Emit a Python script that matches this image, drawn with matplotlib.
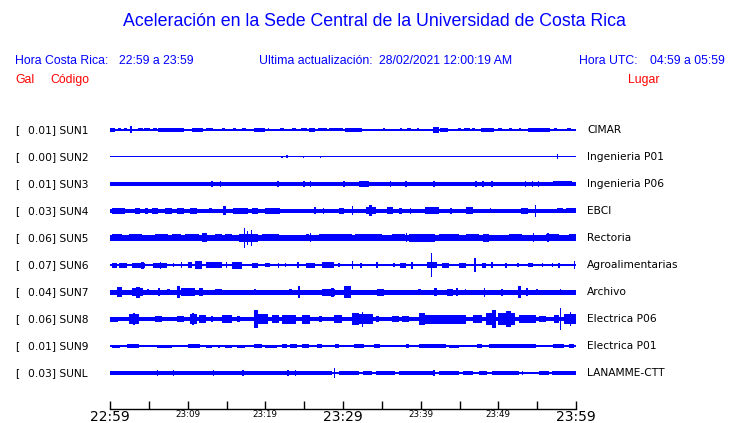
import matplotlib
matplotlib.use('Agg')
import matplotlib.pyplot as plt
from matplotlib.transforms import blended_transform_factory

BLUE = '#0000ff'
RED = '#ff0000'

codes = ['SUN1', 'SUN2', 'SUN3', 'SUN4', 'SUN5', 'SUN6', 'SUN7', 'SUN8', 'SUN9', 'SUNL']
peaks = ['0.01', '0.00', '0.01', '0.03', '0.06', '0.07', '0.04', '0.06', '0.01', '0.03']
places = ['CIMAR', 'Ingenieria P01', 'Ingenieria P06', 'EBCI', 'Rectoria',
          'Agroalimentarias', 'Archivo', 'Electrica P06', 'Electrica P01', 'LANAMME-CTT']

# background noise half-width of each trace
noise = [0.6, 0.5, 2.0, 2.3, 3.0, 0.7, 2.5, 2.4, 0.6, 0.7]

# bursts: (start minute, end minute, half amplitude)
sun1 = [(0.0, 0.6, 2), (1.0, 1.4, 1.5), (1.8, 2.2, 1.5), (2.6, 2.8, 3.5), (3.6, 4.2, 1.5),
        (4.4, 5.2, 1.5), (5.6, 6.0, 1.5), (6.2, 9.5, 2), (10.5, 12.0, 2), (12.4, 13.2, 1.5),
        (14.4, 14.8, 1.5), (15.8, 16.2, 1.5), (17.0, 17.5, 1.5), (18.6, 20.0, 2), (20.3, 20.5, 1.5),
        (21.9, 22.4, 1.5), (23.4, 24.0, 1.5), (24.6, 25.4, 1.5), (25.6, 26.4, 2), (26.8, 28.0, 1.5),
        (28.2, 30.0, 1.5), (30.3, 32.5, 2), (35.2, 35.4, 1.5), (37.3, 37.6, 1.5), (38.3, 38.8, 1.5),
        (39.5, 39.8, 1.5), (41.6, 42.3, 3), (42.5, 43.5, 2), (44.8, 45.2, 1.5), (45.6, 46.4, 1.5),
        (46.6, 47.0, 1.5), (47.8, 49.5, 2), (50.0, 50.5, 1.5), (51.4, 51.8, 1.5), (52.6, 52.9, 1.5),
        (53.8, 56.6, 2), (57.2, 57.6, 1.5), (58.9, 59.4, 1.5)]
sun2 = [(22.0, 22.3, 1.2), (22.6, 22.9, 1.5), (24.8, 25.0, 1.2), (27.0, 27.2, 1.2), (57.5, 57.7, 2.5)]
sun3 = [(13.0, 13.2, 2.6), (14.1, 14.3, 2.6), (21.5, 21.7, 2.6), (24.9, 25.1, 2.6), (25.7, 25.9, 2.6),
        (30.0, 30.2, 2.6), (32.0, 33.3, 2.6), (36.0, 36.2, 2.6), (38.0, 38.2, 2.6), (41.6, 41.8, 2.6),
        (47.0, 47.2, 2.6), (47.9, 48.1, 2.6), (49.1, 49.3, 2.6), (53.4, 53.6, 2.6), (54.3, 54.5, 2.6),
        (55.1, 55.3, 2.6), (57.0, 59.5, 2.5)]
sun4 = [(0.2, 1.9, 3), (3.2, 3.9, 3), (4.5, 4.9, 3), (5.4, 6.2, 3), (7.1, 8.0, 3), (8.6, 9.5, 3),
        (10.3, 11.2, 3), (12.7, 13.1, 2.5), (14.6, 14.9, 4.5), (15.9, 17.8, 3), (18.3, 19.1, 3),
        (20.0, 21.9, 3), (26.3, 26.5, 3.5), (27.4, 27.6, 3), (29.5, 30.1, 3), (31.1, 31.3, 4.5),
        (32.9, 34.2, 3.5), (33.4, 33.7, 5.5), (35.7, 36.4, 3.5), (37.2, 37.6, 3), (38.6, 38.8, 3),
        (40.6, 42.4, 3.5), (43.8, 44.0, 3), (45.8, 46.7, 3.5), (48.9, 49.1, 2.5), (52.9, 53.8, 3),
        (54.7, 54.9, 6), (57.6, 58.3, 2.5), (58.7, 60.0, 2.5)]
sun5 = [(0.2, 1.5, 3.5), (2.4, 4.1, 3.5), (5.8, 7.5, 3.5), (8.0, 9.2, 3.5), (9.7, 11.4, 3.5),
        (11.8, 12.5, 4.5), (13.5, 14.4, 3.5), (14.8, 15.7, 3.5), (16.6, 19.1, 4), (17.2, 17.4, 10),
        (17.6, 17.8, 7), (18.1, 18.3, 8), (19.6, 21.7, 3.5), (25.2, 25.6, 3.5), (25.7, 25.9, 4.5),
        (26.9, 31.2, 3.5), (31.6, 35.0, 3.5), (36.3, 38.0, 3.5), (38.1, 38.3, 4.5), (38.5, 41.9, 4),
        (42.4, 44.9, 3.5), (45.8, 47.5, 3.5), (48.0, 48.8, 4), (51.4, 53.1, 3.5), (54.4, 54.6, 4.5),
        (56.1, 57.8, 3.5), (56.3, 56.5, 4.5), (59.1, 60.0, 3.5)]
sun6 = [(0.2, 0.9, 2.5), (1.1, 2.2, 2.5), (2.8, 4.5, 2.5), (4.0, 4.4, 3.5), (5.6, 7.3, 2.5),
        (6.4, 6.6, 3.5), (8.1, 8.3, 2), (9.1, 9.3, 3), (10.1, 10.5, 3), (11.0, 11.8, 4),
        (12.3, 14.4, 3), (14.9, 15.1, 3), (15.7, 17.0, 3.5), (18.3, 19.1, 2.5), (20.0, 20.6, 2),
        (21.6, 21.8, 2.5), (22.5, 22.7, 2), (24.1, 24.3, 3), (25.2, 26.4, 2.5), (27.3, 28.8, 3),
        (29.4, 29.6, 2), (31.1, 31.3, 4), (32.2, 32.4, 2.5), (34.3, 34.5, 3), (36.5, 36.7, 2),
        (37.4, 38.1, 2.5), (38.8, 39.0, 3.5), (40.8, 42.1, 3), (41.3, 41.5, 12), (42.8, 43.6, 2.5),
        (44.9, 45.8, 2.5), (46.9, 47.1, 7), (47.9, 48.4, 2.5), (49.1, 49.3, 3), (50.9, 51.1, 2.5),
        (52.4, 52.6, 2), (53.8, 54.4, 2), (55.6, 55.8, 2), (56.9, 57.1, 2), (57.7, 57.9, 2.5),
        (59.7, 59.9, 4)]
sun7 = [(0.9, 1.5, 5), (2.8, 4.3, 4), (3.4, 3.9, 5.5), (4.8, 5.0, 3), (6.2, 6.4, 4), (7.3, 7.7, 3),
        (8.6, 9.0, 6), (9.2, 11.0, 4), (11.4, 12.0, 4), (12.7, 13.1, 2.5), (13.5, 14.4, 3),
        (18.6, 18.8, 3), (21.2, 21.4, 2.5), (23.0, 23.4, 3), (24.2, 24.4, 6), (27.3, 29.0, 3.5),
        (28.4, 28.8, 4.5), (30.1, 31.0, 6), (34.4, 35.3, 3.5), (37.7, 37.9, 2.5), (39.6, 40.0, 3),
        (41.7, 42.1, 4), (43.4, 44.1, 3.5), (44.6, 44.8, 4), (45.7, 45.9, 3), (48.1, 48.3, 4.5),
        (50.4, 50.6, 3.5), (52.5, 52.9, 6), (53.6, 53.8, 4), (54.9, 55.1, 3), (56.9, 57.1, 2.5),
        (57.9, 58.1, 3), (59.5, 59.7, 2.5)]
sun8 = [(0.0, 1.0, 2.5), (2.4, 3.7, 5), (2.9, 3.2, 6), (5.8, 6.7, 3), (8.6, 9.5, 3), (10.3, 11.2, 5),
        (10.6, 10.8, 6), (11.4, 12.3, 4), (13.0, 13.2, 3), (14.4, 15.7, 4), (16.3, 16.8, 3),
        (18.5, 19.1, 9), (19.1, 20.4, 5), (20.9, 21.7, 4), (22.1, 23.9, 4.5), (24.7, 25.8, 4.5),
        (26.9, 27.3, 3), (28.8, 29.9, 4), (31.2, 32.0, 6), (32.0, 33.8, 5), (32.4, 32.6, 7.5),
        (34.2, 34.6, 3), (36.3, 37.2, 3), (37.6, 38.5, 3), (39.8, 40.6, 6), (40.6, 45.8, 4.5),
        (46.7, 47.9, 4), (48.4, 49.2, 6), (49.2, 49.7, 9), (49.9, 52.2, 6), (51.0, 51.6, 8),
        (52.7, 54.8, 4), (55.3, 56.1, 3), (57.2, 57.8, 4), (57.9, 58.1, 11), (58.5, 60.0, 5),
        (59.2, 59.4, 7)]
sun9 = [(0.2, 1.3, 1.5), (2.2, 3.7, 2), (6.0, 8.0, 1.5), (10.1, 11.6, 2), (12.3, 13.1, 1.5),
        (13.9, 14.1, 1.5), (14.8, 15.7, 1.5), (16.3, 17.4, 1.5), (18.5, 19.6, 2), (20.0, 21.5, 1.5),
        (22.1, 22.8, 2), (23.2, 24.1, 2), (24.7, 25.6, 2), (26.6, 27.3, 2), (29.0, 29.5, 2),
        (31.4, 32.7, 2), (34.0, 34.8, 2), (38.1, 38.5, 2), (39.8, 43.2, 2), (43.6, 44.9, 1.5),
        (47.3, 47.9, 2), (48.8, 54.8, 2), (57.0, 58.5, 2), (59.1, 59.8, 2)]
sunl = [(0.0, 28.6, 2.0), (6.0, 6.2, 2.6), (8.1, 8.3, 2.6), (13.2, 13.4, 2.6), (17.0, 17.2, 2.6),
        (22.8, 23.0, 2.6), (23.8, 24.0, 2.6), (28.8, 29.0, 4.8), (29.5, 32.0, 1.8), (32.6, 33.7, 1.8),
        (34.2, 36.7, 1.8), (37.2, 41.9, 1.8), (41.6, 41.8, 2.8), (42.4, 44.9, 1.8), (45.4, 46.7, 1.8),
        (47.5, 48.6, 2.2), (49.2, 52.6, 1.8), (53.0, 53.2, 1.8), (55.2, 56.5, 1.8), (56.9, 60.0, 1.8)]

bursts = [sun1, sun2, sun3, sun4, sun5, sun6, sun7, sun8, sun9, sunl]

minutes = list(range(0, 61, 5))
tick_labels = ['22:59', '', '23:09', '', '23:19', '', '23:29', '', '23:39', '', '23:49', '', '23:59']

ROW = 27

fig = plt.figure(figsize=(7.4, 4.23), dpi=100)
ax = fig.add_axes([110 / 740, 1 - 409 / 423, 466 / 740, 293 / 423])

for i, code in enumerate(codes):
    y = -i * ROW
    ax.bar(0, 2 * noise[i], width=60, bottom=y - noise[i], align='edge',
           color=BLUE, linewidth=0)
    starts = [b[0] for b in bursts[i]]
    widths = [max(b[1] - b[0], 0.2) for b in bursts[i]]
    amps = [b[2] for b in bursts[i]]
    ax.bar(starts, [2 * a for a in amps], width=widths, bottom=[y - a for a in amps],
           align='edge', color=BLUE, linewidth=0)

ax.set_xlim(0, 60)
ax.set_ylim(-(409 - 130), 130 - 116)

# left and right labels
tr = blended_transform_factory(fig.transFigure, ax.transData)
for i, code in enumerate(codes):
    y = -i * ROW
    ax.text(15 / 740, y, '[', transform=tr, fontsize=7.7, va='center', ha='left')
    ax.text(28 / 740, y, '%s] %s' % (peaks[i], code), transform=tr, fontsize=7.7,
            va='center', ha='left')
    ax.text(587 / 740, y, places[i], transform=tr, fontsize=7.7, va='center', ha='left')

for s in ['top', 'left', 'right']:
    ax.spines[s].set_visible(False)
ax.spines['bottom'].set_linewidth(1)
ax.set_yticks([])
ax.set_xticks(minutes)
ax.set_xticklabels(tick_labels)
ax.tick_params(axis='x', direction='in', length=6, width=1, pad=1)
for lbl in ax.get_xticklabels():
    if lbl.get_text() in ('22:59', '23:29', '23:59'):
        lbl.set_fontsize(10)
    else:
        lbl.set_fontsize(6.3)

hdr = ['Liberation Sans', 'DejaVu Sans']
fig.text(374 / 740, 1 - 22 / 423, 'Aceleración en la Sede Central de la Universidad de Costa Rica',
         color=BLUE, fontsize=12.8, family=hdr, ha='center', va='center')
fig.text(15 / 740, 1 - 61 / 423, 'Hora Costa Rica:', color=BLUE, fontsize=8.8, family=hdr, va='center')
fig.text(119 / 740, 1 - 61 / 423, '22:59 a 23:59', color=BLUE, fontsize=8.8, family=hdr, va='center')
fig.text(259 / 740, 1 - 61 / 423, 'Ultima actualización:', color=BLUE, fontsize=8.8, family=hdr, va='center')
fig.text(379 / 740, 1 - 61 / 423, '28/02/2021 12:00:19 AM', color=BLUE, fontsize=8.8, family=hdr, va='center')
fig.text(579 / 740, 1 - 61 / 423, 'Hora UTC:', color=BLUE, fontsize=8.8, family=hdr, va='center')
fig.text(725 / 740, 1 - 61 / 423, '04:59 a 05:59', color=BLUE, fontsize=8.8, family=hdr,
         va='center', ha='right')
fig.text(15 / 740, 1 - 80 / 423, 'Gal', color=RED, fontsize=8.8, family=hdr, va='center')
fig.text(50 / 740, 1 - 80 / 423, 'Código', color=RED, fontsize=8.8, family=hdr, va='center')
fig.text(628 / 740, 1 - 80 / 423, 'Lugar', color=RED, fontsize=8.8, family=hdr, va='center')

fig.savefig('out.png', dpi=100)
